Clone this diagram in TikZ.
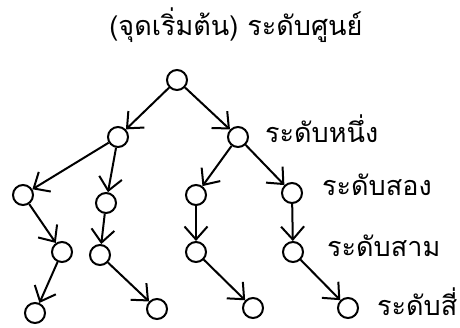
\documentclass[tikz,border=0pt]{standalone}
\usepackage{fontspec}
\newfontfamily\thaifont[Script=Thai]{Loma}
\usetikzlibrary{arrows.meta}
\begin{document}
\begin{tikzpicture}[x=1pt,y=-1pt,
  vtx/.style={circle,draw,line width=2pt,minimum size=20pt,inner sep=0pt},
  edge/.style={line width=2pt,-{Straight Barb[length=13pt,width=23pt,line width=2pt]}},
  lbl/.style={font=\thaifont\fontsize{27}{30}\selectfont,inner sep=0pt,anchor=base west}]
\useasboundingbox (0,0) rectangle (460,327);
% vertices
\node[vtx] (r) at (177,80) {};
\node[vtx] (a) at (118,137) {};
\node[vtx] (b) at (238,137) {};
\node[vtx] (a1) at (23,195) {};
\node[vtx] (a2) at (106,203) {};
\node[vtx] (b1) at (196,195) {};
\node[vtx] (b2) at (292,193) {};
\node[vtx] (a11) at (62,252) {};
\node[vtx] (a21) at (100,255) {};
\node[vtx] (b11) at (196,252) {};
\node[vtx] (b21) at (293,252) {};
\node[vtx] (a111) at (35,313) {};
\node[vtx] (a211) at (157,309) {};
\node[vtx] (b111) at (253,308) {};
\node[vtx] (b211) at (348,308) {};
% edges
\draw[edge] (r) -- (a);
\draw[edge] (r) -- (b);
\draw[edge] (a) -- (a1);
\draw[edge] (a) -- (a2);
\draw[edge] (b) -- (b1);
\draw[edge] (b) -- (b2);
\draw[edge] (a1) -- (a11);
\draw[edge] (a2) -- (a21);
\draw[edge] (b1) -- (b11);
\draw[edge] (b2) -- (b21);
\draw[edge] (a11) -- (a111);
\draw[edge] (a21) -- (a211);
\draw[edge] (b11) -- (b111);
\draw[edge] (b21) -- (b211);
% labels
\node[lbl,anchor=base] (t0) at (236,35) {(จุดเริ่มต้น) ระดับศูนย์};
\node[lbl] (t1) at (265,142) {ระดับหนึ่ง};
\node[lbl] (t2) at (322,195) {ระดับสอง};
\node[lbl] (t3) at (327,256) {ระดับสาม};
\node[lbl] (t4) at (377,315) {ระดับสี่};
\end{tikzpicture}
\end{document}
